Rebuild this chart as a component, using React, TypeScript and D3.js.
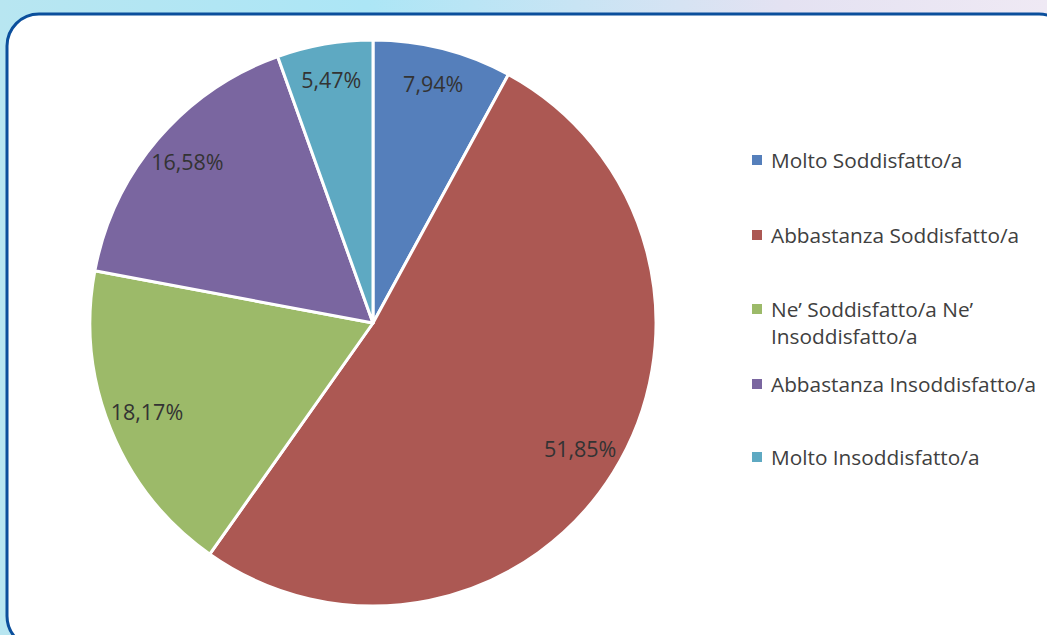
import React from "react";
import * as d3 from "d3";

const categories = [
  "Molto Soddisfatto/a",
  "Abbastanza Soddisfatto/a",
  "Ne’ Soddisfatto/a Ne’ Insoddisfatto/a",
  "Abbastanza Insoddisfatto/a",
  "Molto Insoddisfatto/a",
];
const legendLines = [
  ["Molto Soddisfatto/a"],
  ["Abbastanza Soddisfatto/a"],
  ["Ne’ Soddisfatto/a Ne’", "Insoddisfatto/a"],
  ["Abbastanza Insoddisfatto/a"],
  ["Molto Insoddisfatto/a"],
];
const values = [7.94, 51.85, 18.17, 16.58, 5.47];
const valueLabels = ["7,94%", "51,85%", "18,17%", "16,58%", "5,47%"];
const colors = ["#557FBB", "#AC5853", "#9CBA69", "#7A66A0", "#5EA9C2"];

const W = 1047;
const H = 635;
const cx = 373;
const cy = 323;
const R = 283;
const labelR = 244;
const FONT = "'Open Sans', 'Noto Sans', sans-serif";

export default function App() {
  const pie = d3
    .pie<number>()
    .sort(null)
    .value((d) => d)(values);
  const arc = d3.arc<d3.PieArcDatum<number>>().innerRadius(0).outerRadius(R);
  const labelArc = d3
    .arc<d3.PieArcDatum<number>>()
    .innerRadius(labelR)
    .outerRadius(labelR);

  const legendY = [160, 235, 309, 384, 457];

  return (
    <svg
      width={W}
      height={H}
      style={{ position: "absolute", left: 0, top: 0, display: "block" }}
    >
      <defs>
        <linearGradient id="bg" x1="0" y1="0" x2="1" y2="0">
          <stop offset="0" stopColor="#b8e6f1" />
          <stop offset="0.35" stopColor="#ace6f6" />
          <stop offset="0.75" stopColor="#e4e2f2" />
          <stop offset="1" stopColor="#efe9f4" />
        </linearGradient>
      </defs>
      <rect x={0} y={0} width={W} height={H} fill="url(#bg)" />
      <rect
        x={7}
        y={14}
        width={1064}
        height={634}
        rx={32}
        ry={32}
        fill="#ffffff"
        stroke="#0b4f9c"
        strokeWidth={3}
      />
      <g transform={`translate(${cx},${cy})`}>
        {pie.map((d, i) => (
          <path
            key={categories[i]}
            d={arc(d) || ""}
            fill={colors[i]}
            stroke="#ffffff"
            strokeWidth={3}
            strokeLinejoin="round"
          />
        ))}
        {pie.map((d, i) => {
          const [x, y] = labelArc.centroid(d);
          return (
            <text
              key={"l" + i}
              x={x}
              y={y - 3}
              textAnchor="middle"
              dominantBaseline="central"
              fontFamily={FONT}
              fontSize={21.5}
              fill="#333333"
            >
              {valueLabels[i]}
            </text>
          );
        })}
      </g>
      <g>
        {legendLines.map((lines, i) => (
          <g key={"lg" + i}>
            <rect
              x={752}
              y={legendY[i] - 5}
              width={10}
              height={10}
              fill={colors[i]}
            />
            {lines.map((t, j) => (
              <text
                key={j}
                x={771}
                y={legendY[i] + j * 27}
                dominantBaseline="central"
                fontFamily={FONT}
                fontSize={20.8}
                fill="#404040"
              >
                {t}
              </text>
            ))}
          </g>
        ))}
      </g>
    </svg>
  );
}
